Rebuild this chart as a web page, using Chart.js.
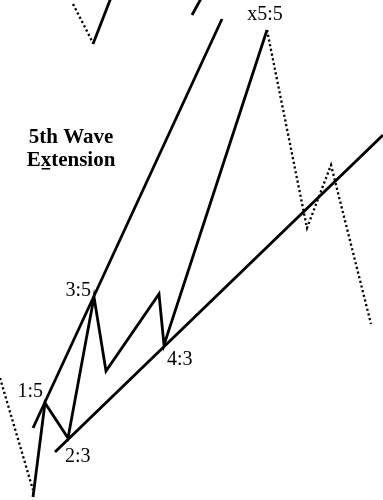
<!DOCTYPE html>
<html>
<head>
<meta charset="utf-8">
<script src="https://cdn.jsdelivr.net/npm/chart.js@4"></script>
<style>
  html, body { margin: 0; padding: 0; background: #fff; }
  #wrap { width: 383px; height: 500px; position: relative; }
</style>
</head>
<body>
<div id="wrap"><canvas id="waveChart"></canvas></div>
<script>
// time (x) and price (y) units, price grows upwards
var waveX = [33, 45, 68, 94, 106, 159, 164, 267];
var waveY = [3, 97, 62, 203, 129, 206, 155, 470];
var waveLabels = ['', '1:5', '2:3', '3:5', '', '', '4:3', 'x5:5'];

var upperX = [33, 222];
var upperY = [72, 481];
var lowerX = [55, 383];
var lowerY = [48, 365];

var leadInX = [0, 33];
var leadInY = [122, 10];
var priorDropX = [73, 93];
var priorDropY = [496, 457];
var priorRiseX = [93, 112];
var priorRiseY = [456, 505];
var otherRiseX = [192, 203];
var otherRiseY = [485, 505];
var afterX = [267, 307, 331, 371];
var afterY = [470, 272, 335, 176];

var titleLines = ['5th Wave', 'Extension'];

function pts(xs, ys) {
  return xs.map(function (x, i) { return { x: x, y: ys[i] }; });
}

function solid(xs, ys) {
  return { data: pts(xs, ys), showLine: true, borderColor: '#000', borderWidth: 2.8,
    pointRadius: 0, tension: 0, borderCapStyle: 'butt', borderJoinStyle: 'miter' };
}
function dotted(xs, ys) {
  return { data: pts(xs, ys), showLine: true, borderColor: '#000', borderWidth: 2.3,
    borderDash: [2.2, 2.6], pointRadius: 0, tension: 0, borderCapStyle: 'butt' };
}

// label offsets relative to the wave point: [dx, dy, align]
var labelPlace = {
  1: [-2, -6, 'right'],
  2: [-3, 24, 'left'],
  3: [-3, -1, 'right'],
  6: [3, 20, 'left'],
  7: [-2, -10, 'center']
};

var textPlugin = {
  id: 'waveText',
  afterDatasetsDraw: function (chart) {
    var c = chart.ctx;
    var xs = chart.scales.x, ys = chart.scales.y;
    c.save();
    c.fillStyle = '#000';
    c.textBaseline = 'alphabetic';
    c.font = "20px 'Liberation Serif', 'Times New Roman', serif";
    waveLabels.forEach(function (t, i) {
      if (!t) return;
      var p = labelPlace[i];
      c.textAlign = p[2];
      c.fillText(t, xs.getPixelForValue(waveX[i]) + p[0], ys.getPixelForValue(waveY[i]) + p[1]);
    });
    c.font = "bold 21px 'Liberation Serif', 'Times New Roman', serif";
    c.textAlign = 'center';
    var cx = 71;
    c.fillText(titleLines[0], cx, 143);
    c.fillText(titleLines[1], cx, 166);
    // underline the x in Extension
    var w = c.measureText(titleLines[1]).width;
    var left = cx - w / 2 + c.measureText('E').width;
    var xw = c.measureText('x').width;
    c.fillRect(left + 1, 168, xw - 2, 1.5);
    c.restore();
  }
};

new Chart(document.getElementById('waveChart'), {
  type: 'scatter',
  data: {
    datasets: [
      solid(waveX, waveY),
      solid(upperX, upperY),
      solid(lowerX, lowerY),
      solid(priorRiseX, priorRiseY),
      solid(otherRiseX, otherRiseY),
      dotted(leadInX, leadInY),
      dotted(priorDropX, priorDropY),
      dotted(afterX, afterY)
    ]
  },
  options: {
    responsive: true,
    maintainAspectRatio: false,
    animation: false,
    layout: { padding: 0 },
    plugins: { legend: { display: false }, tooltip: { enabled: false } },
    scales: {
      x: { type: 'linear', min: 0, max: 383, display: false },
      y: { type: 'linear', min: 0, max: 500, display: false }
    }
  },
  plugins: [textPlugin]
});
</script>
</body>
</html>
